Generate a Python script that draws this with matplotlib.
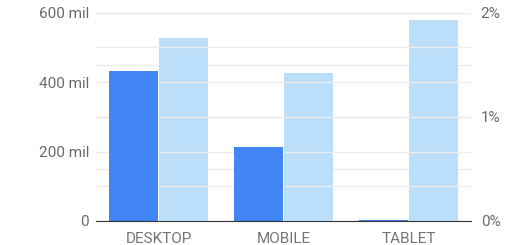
import numpy as np
import matplotlib.pyplot as plt

plt.rcParams['font.family'] = ['Roboto', 'DejaVu Sans']

categories = ['DESKTOP', 'MOBILE', 'TABLET']
users_mil = [431, 213, 4]          # left axis, millions
rate_pct = [1.76, 1.42, 1.93]      # right axis, percent

dark = '#4285F4'
light = '#BBDEFB'
grid = '#EBEBEB'
text = '#6a6a6a'

fig = plt.figure(figsize=(5.08, 2.45), dpi=100)
ax = fig.add_axes([0.189, 0.098, 0.738, 0.850])
ax2 = ax.twinx()

x = np.arange(len(categories))
w = 0.395
ax.bar(x - w / 2 - 0.002, users_mil, w, color=dark, zorder=3)
ax2.bar(x + w / 2 + 0.002, rate_pct, w, color=light, zorder=3)

ax.set_xlim(-0.5, 2.5)
ax.set_ylim(0, 600)
ax2.set_ylim(0, 2)

ax.set_yticks([0, 200, 400, 600])
ax.set_yticklabels(['0', '200 mil', '400 mil', '600 mil'])
ax.set_yticks([100, 300, 500], minor=True)
ax2.set_yticks([0, 1, 2])
ax2.set_yticklabels(['0%', '1%', '2%'])
ax2.set_yticks([0.5, 1.5], minor=True)

ax.set_xticks(x)
ax.set_xticklabels(categories)

for a in (ax, ax2):
    for s in a.spines.values():
        s.set_visible(False)
    a.tick_params(which='both', length=0, colors=text, labelsize=11, pad=5)
ax.spines['bottom'].set_visible(True)
ax.spines['bottom'].set_color('#333333')
ax.spines['bottom'].set_zorder(5)
ax.tick_params(axis='x', pad=8, colors='#757575')
ax2.tick_params(axis='y', pad=7)

ax.grid(axis='y', which='both', color=grid, linewidth=1, zorder=0)
ax2.grid(axis='y', which='both', color=grid, linewidth=1, zorder=0)
ax.set_zorder(ax2.get_zorder() + 1)
ax.patch.set_visible(False)

fig.savefig('out.png', dpi=100)
